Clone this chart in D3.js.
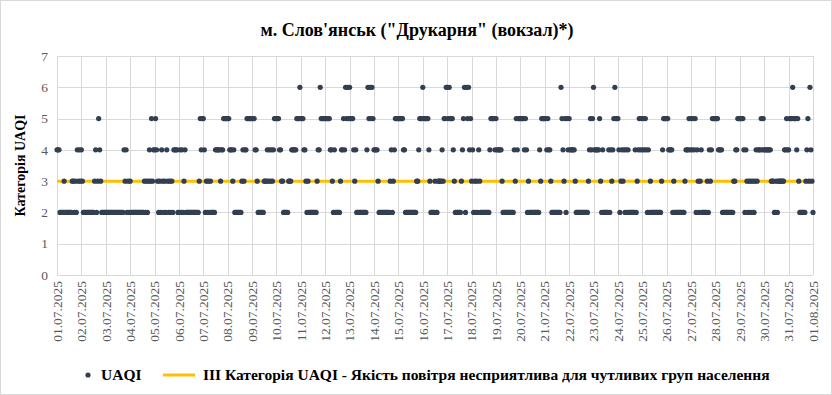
<!DOCTYPE html>
<html>
<head>
<meta charset="utf-8">
<script src="https://cdn.jsdelivr.net/npm/d3@7/dist/d3.min.js"></script>
<style>
body { margin: 0; background: #fff; }
svg { display: block; font-family: "Liberation Serif", "Times New Roman", serif; }
</style>
</head>
<body>
<div id="chart"></div>
<script>
var width = 832;
var height = 395;

var title = "м. Слов'янськ (\"Друкарня\" (вокзал)*)";
var yTitle = "Категорія UAQI";
var seriesName = "UAQI";
var thresholdName = "ІІІ Категорія UAQI - Якість повітря несприятлива для чутливих груп населення";

var dayLabels = ["01.07.2025","02.07.2025","03.07.2025","04.07.2025","05.07.2025","06.07.2025",
  "07.07.2025","08.07.2025","09.07.2025","10.07.2025","11.07.2025","12.07.2025","13.07.2025",
  "14.07.2025","15.07.2025","16.07.2025","17.07.2025","18.07.2025","19.07.2025","20.07.2025",
  "21.07.2025","22.07.2025","23.07.2025","24.07.2025","25.07.2025","26.07.2025","27.07.2025",
  "28.07.2025","29.07.2025","30.07.2025","31.07.2025","01.08.2025"];

var yTicks = [0, 1, 2, 3, 4, 5, 6, 7];

// hourly UAQI, one string of 24 hours per day (01.07 .. 31.07)
var hourly = [
  "444222232222222332324343",
  "432222222222234235432222",
  "222222222222222222434232",
  "322222222222223232343534",
  "454323243232432323244442",
  "242423422222222222223545",
  "542323232222444443445555",
  "554443422222223434455555",
  "555443222222333434343455",
  "555443322222333444445556",
  "555443232222222234465555",
  "555554432422222344546565",
  "655543422222222224656565",
  "444432222222222234234555",
  "555554422222222222334555",
  "655555432222322333343556",
  "656555432222223456265645",
  "342323243222222222455554",
  "544444322222222222435455",
  "555545423222222222243555",
  "554544322222222265435254",
  "544444322222222222234545",
  "644444532422222424345655",
  "542343424242222224234545",
  "454542423222222222234555",
  "554444232222222222344454",
  "545452432342222232434555",
  "555444422222222222334455",
  "555542432323232343444545",
  "444444433322323333334454",
  "455565554532222223453643"
];
var lastHour = [2]; // 01.08.2025 00:00

var threshold = [3, 3];

var start = Date.UTC(2025, 6, 1);
var end = Date.UTC(2025, 7, 1);

var data = [];
hourly.forEach(function(day, d) {
  day.split("").forEach(function(ch, h) {
    data.push({t: new Date(start + (d * 24 + h) * 3600000), v: +ch});
  });
});
lastHour.forEach(function(v, i) {
  data.push({t: new Date(end + i * 3600000), v: v});
});

var margin = {top: 56, right: 19, bottom: 120, left: 57};

var svg = d3.select("#chart").append("svg")
  .attr("width", width)
  .attr("height", height);

svg.append("rect")
  .attr("x", 0.5).attr("y", 0.5)
  .attr("width", width - 1).attr("height", height - 1)
  .attr("fill", "#fff")
  .attr("stroke", "#d9d9d9");

var x = d3.scaleUtc()
  .domain([new Date(start), new Date(end)])
  .range([margin.left, width - margin.right]);

var y = d3.scaleLinear()
  .domain([0, 7])
  .range([height - margin.bottom, margin.top]);

var days = d3.utcDay.range(new Date(start), new Date(end + 1));

// grid
svg.append("g").selectAll("line").data(yTicks).enter().append("line")
  .attr("x1", margin.left).attr("x2", width - margin.right)
  .attr("y1", d => Math.round(y(d)) + 0.5).attr("y2", d => Math.round(y(d)) + 0.5)
  .attr("stroke", "#d9d9d9");

svg.append("g").selectAll("line").data(days).enter().append("line")
  .attr("x1", d => Math.round(x(d)) + 0.5).attr("x2", d => Math.round(x(d)) + 0.5)
  .attr("y1", y(7)).attr("y2", y(0))
  .attr("stroke", "#d9d9d9");

// y axis labels
svg.append("g").selectAll("text").data(yTicks).enter().append("text")
  .attr("x", margin.left - 9)
  .attr("y", d => y(d))
  .attr("dy", "0.35em")
  .attr("text-anchor", "end")
  .attr("font-size", 13.5)
  .attr("fill", "#595959")
  .text(d => d);

// x axis labels
svg.append("g").selectAll("text").data(days).enter().append("text")
  .attr("transform", d => `translate(${x(d)},${y(0) + 6}) rotate(-90)`)
  .attr("dy", "0.35em")
  .attr("text-anchor", "end")
  .attr("font-size", 13.5)
  .attr("fill", "#595959")
  .text((d, i) => dayLabels[i]);

// threshold line
svg.append("line")
  .attr("x1", x(new Date(start))).attr("x2", x(new Date(end)))
  .attr("y1", y(threshold[0])).attr("y2", y(threshold[1]))
  .attr("stroke", "#ffc000")
  .attr("stroke-width", 3);

// points
svg.append("g").selectAll("circle").data(data).enter().append("circle")
  .attr("cx", d => x(d.t))
  .attr("cy", d => y(d.v))
  .attr("r", 2.6)
  .attr("fill", "#333f50");

// titles
svg.append("text")
  .attr("x", 417).attr("y", 36)
  .attr("text-anchor", "middle")
  .attr("font-size", 18)
  .attr("font-weight", "bold")
  .attr("fill", "#000")
  .text(title);

svg.append("text")
  .attr("transform", `translate(25,${(y(0) + y(7)) / 2}) rotate(-90)`)
  .attr("text-anchor", "middle")
  .attr("font-size", 14)
  .attr("font-weight", "bold")
  .attr("fill", "#000")
  .text(yTitle);

// legend
var legend = svg.append("g").attr("font-size", 15.5).attr("font-weight", "bold").attr("fill", "#000");
legend.append("circle").attr("cx", 88).attr("cy", 375).attr("r", 2.6).attr("fill", "#333f50");
legend.append("text").attr("x", 101).attr("y", 380).text(seriesName);
legend.append("line").attr("x1", 163).attr("x2", 195).attr("y1", 375).attr("y2", 375)
  .attr("stroke", "#ffc000").attr("stroke-width", 3);
legend.append("text").attr("x", 203).attr("y", 380).text(thresholdName);
</script>
</body>
</html>
